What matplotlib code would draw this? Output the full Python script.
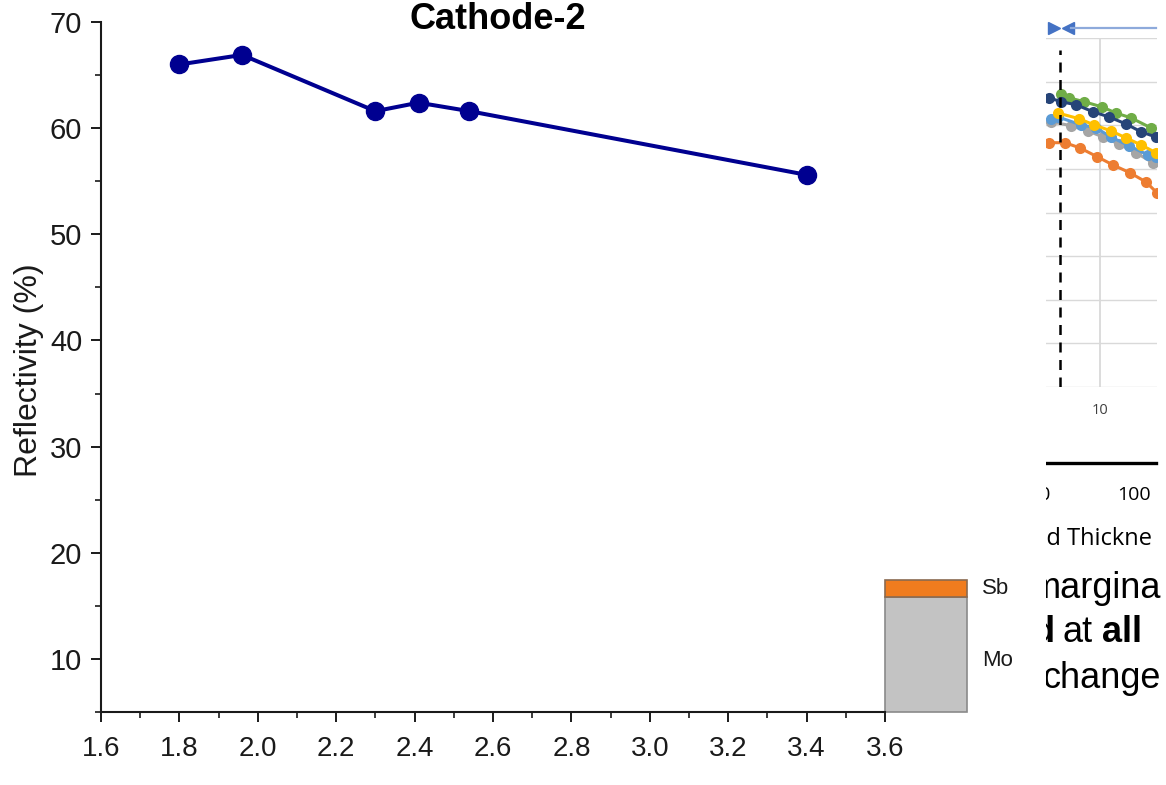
import matplotlib
matplotlib.use("Agg")
import matplotlib.pyplot as plt
from matplotlib.patches import Rectangle
from matplotlib.ticker import MultipleLocator

# ---------------- data ----------------
sb_thickness = [1.80, 1.96, 2.30, 2.41, 2.54, 3.40]
reflectivity = [66.0, 66.9, 61.6, 62.4, 61.6, 55.6]
x_ticks = [1.6, 1.8, 2.0, 2.2, 2.4, 2.6, 2.8, 3.0, 3.2, 3.4, 3.6]
y_ticks = [10, 20, 30, 40, 50, 60, 70]

# stack schematic (layer extents in axis units)
stack_x = [3.60, 3.81]
mo_layer = [5.0, 15.85]
sb_layer = [15.85, 17.45]

# fragment of a second chart (right edge)
frag_green_x = [15, 23, 38, 56, 70, 85, 105]
frag_green_y = [67.2, 66.3, 65.4, 64.2, 62.8, 61.7, 59.4]
frag_navy_x = [3, 15, 30, 47, 63, 80, 95, 110]
frag_navy_y = [66.3, 65.4, 64.7, 63.1, 61.9, 60.3, 58.5, 57.3]
frag_yellow_x = [12, 33, 48, 65, 80, 95, 110]
frag_yellow_y = [62.8, 61.5, 60.1, 58.7, 57.1, 55.5, 53.7]
frag_lblue_x = [5, 12, 35, 50, 65, 83, 102, 110]
frag_lblue_y = [61.5, 61.9, 60.1, 59.4, 57.3, 55.3, 53.2, 52.8]
frag_gray_x = [5, 25, 42, 57, 73, 90, 107]
frag_gray_y = [60.8, 59.9, 58.7, 57.3, 55.7, 53.7, 51.4]
frag_orange_x = [3, 19, 34, 51, 67, 84, 100, 111]
frag_orange_y = [56.0, 56.0, 54.8, 52.8, 50.9, 49.1, 47.0, 44.5]
frag_dash_x = 14
frag_vgrid_x = 54

W, H = 1166, 785
fig = plt.figure(figsize=(W / 100, H / 100), dpi=100)
fig.patch.set_facecolor("white")

SANS = ["Liberation Sans", "DejaVu Sans"]
OS = ["Open Sans", "DejaVu Sans"]


def fx(px):
    return px / W


def fy(py):
    return 1 - py / H


# ---------------- main chart ----------------
ax = fig.add_axes([fx(101), fy(712), fx(885) - fx(101), fy(22) - fy(712)])
ax.plot(sb_thickness, reflectivity, color="#000090", lw=2.9, marker="o",
        markersize=13, markerfacecolor="#000090", markeredgecolor="#000090",
        zorder=3, clip_on=False)
ax.set_xlim(1.6, 3.6)
ax.set_ylim(5, 70)
ax.set_xticks(x_ticks)
ax.set_xticklabels([f"{v:.1f}" for v in x_ticks], family=SANS, fontsize=20)
ax.set_yticks(y_ticks)
ax.set_yticklabels([str(v) for v in y_ticks], family=SANS, fontsize=21)
ax.xaxis.set_minor_locator(MultipleLocator(0.1))
ax.yaxis.set_minor_locator(MultipleLocator(5))
for s in ["top", "right"]:
    ax.spines[s].set_visible(False)
for s in ["left", "bottom"]:
    ax.spines[s].set_linewidth(1.5)
    ax.spines[s].set_color("#1a1a1a")
ax.tick_params(which="major", length=7.5, width=1.4, color="#1a1a1a",
               labelcolor="#1a1a1a")
ax.tick_params(axis="x", which="major", pad=10)
ax.tick_params(axis="y", which="major", pad=6)
ax.tick_params(which="minor", length=4, width=1.2, color="#1a1a1a")
ax.set_ylabel("Reflectivity (%)", family=SANS, fontsize=23, color="#1a1a1a")
ax.yaxis.set_label_coords((44 - 101) / 784, 0.496)

# stack schematic
ax.add_patch(Rectangle((stack_x[0], mo_layer[0]), stack_x[1] - stack_x[0],
                       mo_layer[1] - mo_layer[0], facecolor="#c3c3c3",
                       edgecolor="#8a8a8a", lw=1.2, clip_on=False, zorder=2))
ax.add_patch(Rectangle((stack_x[0], sb_layer[0]), stack_x[1] - stack_x[0],
                       sb_layer[1] - sb_layer[0], facecolor="#f07c1e",
                       edgecolor="#8a6a50", lw=1.2, clip_on=False, zorder=2))
fig.text(fx(982), fy(588), "Sb", family=SANS, fontsize=16, va="center",
         ha="left", color="#1a1a1a")
fig.text(fx(982), fy(661), "Mo", family=SANS, fontsize=16, va="center",
         ha="left", color="#1a1a1a")

# title
fig.text(fx(498), fy(29), "Cathode-2", family=SANS, fontsize=26,
         fontweight="bold", ha="center", va="baseline", color="black")

# ---------------- fragment chart on the right ----------------
fa = fig.add_axes([fx(1046), fy(387), fx(1157) - fx(1046), fy(38) - fy(387)])
fa.set_xlim(0, 111)
fa.set_ylim(0, 80)
for s in fa.spines.values():
    s.set_visible(False)
fa.set_xticks([])
fa.set_yticks([])
for g in range(0, 81, 10):
    fa.axhline(g, color="#d9d9d9", lw=1.0, zorder=0)
fa.axvline(frag_vgrid_x, color="#d9d9d9", lw=1.3, zorder=0)
fa.axvline(frag_dash_x, ymin=0, ymax=0.965, color="black", lw=1.8,
           ls=(0, (4, 3)), zorder=5)
series = [
    (frag_gray_x, frag_gray_y, "#a5a5a5"),
    (frag_lblue_x, frag_lblue_y, "#5b9bd5"),
    (frag_yellow_x, frag_yellow_y, "#ffc000"),
    (frag_orange_x, frag_orange_y, "#ed7d31"),
    (frag_green_x, frag_green_y, "#70ad47"),
    (frag_navy_x, frag_navy_y, "#264478"),
]
for xs, ys, c in series:
    fa.plot(xs, ys, color=c, lw=2.2, marker="o", markersize=8,
            markeredgewidth=0, zorder=3)
# arrows above
fa.plot([8], [82.3], marker=">", color="#4472c4", markersize=9, clip_on=False)
fa.plot([22], [82.3], marker="<", color="#4472c4", markersize=9, clip_on=False)
fa.plot([25, 110], [82.3, 82.3], color="#8eaadb", lw=1.6, clip_on=False)
fa.text(frag_vgrid_x, -5.5, "10", ha="center", va="center", fontsize=10.5,
        color="#404040", family=OS, clip_on=False)

# lower fragment of text (left edge clipped as in the source)
ta = fig.add_axes([fx(1046), 0, fx(1166) - fx(1046), fy(440)])
ta.set_xlim(1046, 1166)
ta.set_ylim(785, 440)
ta.axis("off")
ta.plot([1047, 1156], [463, 463], color="black", lw=2.4)
ta.text(1039, 495, "10", ha="center", va="center", fontsize=14, family=OS,
        color="black", clip_on=True)
ta.text(1134, 495, "100", ha="center", va="center", fontsize=14, family=OS,
        color="black")
ta.text(1033, 539, "ed Thickne", ha="left", va="center", fontsize=17,
        family=OS, color="black", clip_on=True)
ta.text(1031, 589, "margina", ha="left", va="center", fontsize=26,
        family=SANS, color="black", clip_on=True)
ta.text(1033, 633, "d", ha="left", va="center", fontsize=26, family=SANS,
        fontweight="bold", color="black", clip_on=True)
ta.text(1063, 633, "at", ha="left", va="center", fontsize=26, family=SANS,
        color="black", clip_on=True)
ta.text(1102, 633, "all", ha="left", va="center", fontsize=26, family=SANS,
        fontweight="bold", color="black", clip_on=True)
ta.text(1043, 678, "change", ha="left", va="center", fontsize=26,
        family=SANS, color="black", clip_on=True)

fig.savefig("out.png", dpi=100, facecolor="white")
